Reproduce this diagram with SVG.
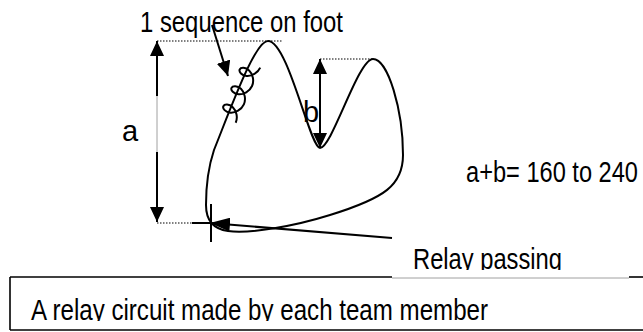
<svg xmlns="http://www.w3.org/2000/svg" width="643" height="332" viewBox="0 0 643 332">
<style>
.ln{stroke:#000;stroke-width:2;fill:none}
.dot{stroke:#000;stroke-width:1.2;stroke-dasharray:1.5 1.5;fill:none}
.gray{stroke:#a0a0a0;stroke-width:1;fill:none}
.box{stroke:#000;stroke-width:1.6;fill:none}
.t{font-family:"Liberation Sans Narrow","Liberation Sans",Arial,sans-serif;font-size:29px;fill:#000}
.t24{font-family:"Liberation Sans Narrow","Liberation Sans",Arial,sans-serif;font-size:24px;fill:#000}
</style>
<defs>
<marker id="ah" viewBox="0 0 15 14" refX="15" refY="7" markerWidth="15" markerHeight="14" markerUnits="userSpaceOnUse" orient="auto-start-reverse"><path d="M0,0 L15,7 L0,14 z" fill="#000"/></marker>
<marker id="ahr" viewBox="0 0 20 14" refX="20" refY="7" markerWidth="20" markerHeight="14" markerUnits="userSpaceOnUse" orient="auto"><path d="M0,0 L20,7 L0,14 z" fill="#000"/></marker>
<clipPath id="c1"><rect x="400" y="230" width="243" height="40"/></clipPath>
<clipPath id="c2"><rect x="12" y="280" width="631" height="41"/></clipPath>
</defs>
<g id="circuit">
<path class="ln" d="M214,150 C232,105 255,41 268,41 C288,41 310,148 320,148 C332,148 358,59 373,59 C388,59 403,110 403,155 C403,185 385,198 330,215 C295,226 250,234 228,231 C213,229 206,220 206,205 C206,185 209,165 214,150 Z"/>
<path class="ln" stroke-width="1.6" transform="translate(252,64) rotate(114)" d="M0,-9 c5.86,0 11.35,4.3 13.03,9 c1.68,4.7 -0.47,9 -2.98,9 c-2.51,0 -4.65,-4.3 -2.97,-9 c1.68,-4.7 7.16,-9 13.02,-9 c5.86,0 11.35,4.3 13.03,9 c1.68,4.7 -0.47,9 -2.98,9 c-2.510,0 -4.65,-4.3 -2.97,-9 c1.68,-4.7 7.16,-9 13.02,-9 c5.86,0 11.35,4.3 13.03,9 c1.68,4.7 -0.47,9 -2.98,9 c-2.51,0 -4.65,-4.3 -2.97,-9 c1.68,-4.7 7.16,-9 13.02,-9"/>
</g>
<g id="connectors">
<line class="dot" x1="157" y1="41" x2="282" y2="41"/>
<line class="dot" x1="320" y1="59" x2="373" y2="59"/>
<line class="dot" x1="157" y1="223" x2="192" y2="223"/>
<line class="ln" x1="157" y1="96" x2="157" y2="41" marker-end="url(#ah)"/>
<line class="gray" x1="157" y1="96" x2="157" y2="152"/>
<line class="ln" x1="157" y1="152" x2="157" y2="222" marker-end="url(#ah)"/>
<line class="ln" x1="320" y1="59" x2="320" y2="148" marker-start="url(#ah)" marker-end="url(#ah)"/>
<line class="ln" x1="212" y1="25" x2="228" y2="76" marker-end="url(#ah)"/>
<line class="ln" x1="392" y1="238" x2="210" y2="223" marker-end="url(#ahr)"/>
<line class="ln" x1="211" y1="204" x2="211" y2="242"/>
<line class="ln" x1="192" y1="223" x2="211" y2="223"/>
</g>
<g id="labels">
<text class="t" x="140" y="32" textLength="203" lengthAdjust="spacingAndGlyphs">1 sequence on foot</text>
<text class="t" x="122" y="141">a</text>
<text class="t" x="303" y="122">b</text>
<text class="t24" transform="translate(466,182) scale(1,1.2)" x="0" y="0" textLength="172" lengthAdjust="spacingAndGlyphs">a+b= 160 to 240</text>
</g>
<g id="relay-label">
<text class="t" x="413" y="269" textLength="149" lengthAdjust="spacingAndGlyphs" clip-path="url(#c1)">Relay passing</text>
</g>
<g id="caption-box">
<line class="box" x1="10" y1="277" x2="392" y2="277"/>
<line class="gray" x1="392" y1="278" x2="629" y2="278"/>
<line class="box" x1="629" y1="277" x2="643" y2="277"/>
<line class="box" x1="10" y1="277" x2="10" y2="330"/>
<line class="box" x1="10" y1="330" x2="643" y2="330"/>
<text class="t" x="31" y="320" textLength="457" lengthAdjust="spacingAndGlyphs" clip-path="url(#c2)">A relay circuit made by each team member</text>
</g>
</svg>
